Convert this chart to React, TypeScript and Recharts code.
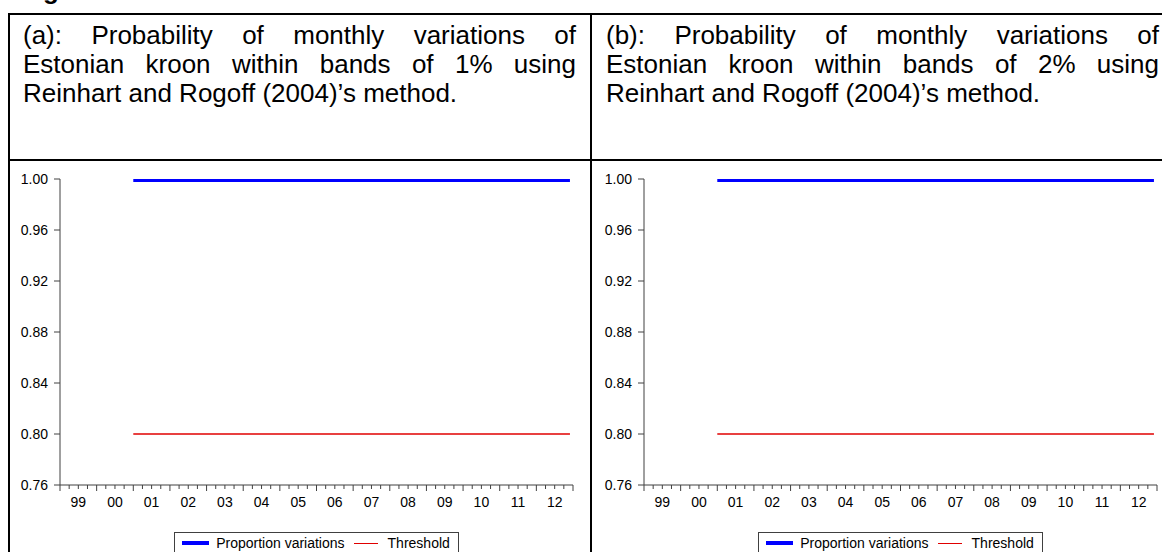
import React from 'react'
import { LineChart, Line, XAxis, YAxis, Legend } from 'recharts'

const obsDates = [
  '2001-01', '2002-01', '2003-01', '2004-01', '2005-01', '2006-01', '2007-01',
  '2008-01', '2009-01', '2010-01', '2011-01', '2012-01', '2012-12',
]
const proportionBand1 = [1, 1, 1, 1, 1, 1, 1, 1, 1, 1, 1, 1, 1]
const proportionBand2 = [1, 1, 1, 1, 1, 1, 1, 1, 1, 1, 1, 1, 1]
const threshold = [0.8, 0.8, 0.8, 0.8, 0.8, 0.8, 0.8, 0.8, 0.8, 0.8, 0.8, 0.8, 0.8]

const yearLabels = ['99', '00', '01', '02', '03', '04', '05', '06', '07', '08', '09', '10', '11', '12']
const yTicks = [0.76, 0.8, 0.84, 0.88, 0.92, 0.96, 1.0]
const firstYear = 1999

const titleA = [
  '(a): Probability of monthly variations of',
  'Estonian kroon within bands of 1% using',
  'Reinhart and Rogoff (2004)’s method.',
]
const titleB = [
  '(b): Probability of monthly variations of',
  'Estonian kroon within bands of 2% using',
  'Reinhart and Rogoff (2004)’s method.',
]

const FONT = '"Liberation Sans", Arial, sans-serif'
const AXIS = '#404040'
const xMax = yearLabels.length * 12
const quarterTicks = Array.from({ length: yearLabels.length * 4 + 1 }, (_, i) => i * 3)

function monthIndex(d: string) {
  const [y, m] = d.split('-').map(Number)
  return (y - firstYear) * 12 + (m - 1)
}

function buildRows(values: number[]) {
  return obsDates.map((d, i) => ({ m: monthIndex(d), p: values[i], t: threshold[i] }))
}

function MonthTick({ x, y, payload }: { x: number; y: number; payload: { value: number } }) {
  const v = payload.value
  const major = v % 12 === 0
  const label = v % 12 === 6 ? yearLabels[Math.floor(v / 12)] : null
  return (
    <g>
      <line x1={x} x2={x} y1={y} y2={y + (major ? 6 : 4)} stroke={AXIS} strokeWidth={1} />
      {label && (
        <text x={x} y={y + 22} textAnchor="middle" fontSize={14} fontFamily={FONT} fill="#000">
          {label}
        </text>
      )}
    </g>
  )
}

function LegendBox({ payload }: { payload?: any[] }) {
  return (
    <div style={{ textAlign: 'center' }}>
      <div
        style={{
          display: 'inline-flex',
          alignItems: 'center',
          border: `1px solid ${AXIS}`,
          padding: '2px 8px 2px 7px',
          fontSize: 14,
          lineHeight: '16px',
          fontFamily: FONT,
          color: '#000',
          background: '#fff',
        }}
      >
        {(payload ?? []).map((entry, i) => (
          <React.Fragment key={entry.value}>
            <span
              style={{
                display: 'inline-block',
                width: i === 0 ? 27 : 24,
                height: i === 0 ? 4 : 1,
                background: entry.color,
                marginLeft: i === 0 ? 0 : 9,
                marginRight: i === 0 ? 7 : 10,
              }}
            />
            <span>{entry.value}</span>
          </React.Fragment>
        ))}
      </div>
    </div>
  )
}

function Panel({ values }: { values: number[] }) {
  const rows = buildRows(values)
  return (
    <LineChart width={578} height={390} data={rows} margin={{ top: 17, right: 15, left: 10, bottom: 0 }}>
      <Line
        type="linear"
        dataKey="p"
        name="Proportion variations"
        stroke="#0000ff"
        strokeWidth={6}
        dot={false}
        activeDot={false}
        isAnimationActive={false}
      />
      <Line
        type="linear"
        dataKey="t"
        name="Threshold"
        stroke="#e00000"
        strokeWidth={1.3}
        dot={false}
        activeDot={false}
        isAnimationActive={false}
      />
      <XAxis
        dataKey="m"
        type="number"
        domain={[0, xMax]}
        ticks={quarterTicks}
        interval={0}
        tickSize={0}
        tickMargin={0}
        tickLine={false}
        tick={MonthTick as any}
        axisLine={{ stroke: AXIS }}
        height={44}
      />
      <XAxis xAxisId="top" orientation="top" type="number" domain={[0, xMax]} tick={false} tickLine={false} axisLine={{ stroke: AXIS }} height={0} />
      <YAxis
        type="number"
        domain={[0.76, 1]}
        ticks={yTicks}
        interval={0}
        allowDataOverflow
        tickFormatter={(v: number) => v.toFixed(2)}
        tickSize={6}
        tickMargin={6}
        tick={{ fontSize: 14, fill: '#000', fontFamily: FONT }}
        tickLine={{ stroke: AXIS }}
        axisLine={{ stroke: AXIS }}
        width={40}
      />
      <YAxis yAxisId="right" orientation="right" type="number" domain={[0.76, 1]} tick={false} tickLine={false} axisLine={{ stroke: AXIS }} width={0} />
      <Legend
        verticalAlign="bottom"
        content={LegendBox as any}
        wrapperStyle={{ top: 369, bottom: 'auto', left: 50, width: 513 }}
      />
    </LineChart>
  )
}

function Title({ lines }: { lines: string[] }) {
  return (
    <div style={{ width: 553, fontFamily: FONT, fontSize: 26, lineHeight: '29px', color: '#000' }}>
      {lines.map((l, i) => (
        <div
          key={i}
          style={{
            textAlign: i < lines.length - 1 ? 'justify' : 'left',
            textAlignLast: i < lines.length - 1 ? 'justify' : 'left',
            whiteSpace: 'nowrap',
          }}
        >
          {l}
        </div>
      ))}
    </div>
  )
}

const rule = (s: React.CSSProperties): React.CSSProperties => ({ position: 'absolute', background: '#000', ...s })

export default function App() {
  return (
    <div style={{ position: 'fixed', left: 0, top: 0, width: 1162, height: 552, overflow: 'hidden', background: '#fff' }}>
      <div
        style={{
          position: 'absolute',
          left: 20,
          top: -24,
          fontFamily: FONT,
          fontWeight: 'bold',
          fontSize: 26,
          lineHeight: '28px',
        }}
      >
        Figure 4
      </div>
      {/* table rules */}
      <div style={rule({ left: 8, top: 13, width: 1154, height: 2 })} />
      <div style={rule({ left: 8, top: 159, width: 1154, height: 2 })} />
      <div style={rule({ left: 8, top: 13, width: 2, height: 539 })} />
      <div style={rule({ left: 590, top: 13, width: 2, height: 539 })} />

      <div style={{ position: 'absolute', left: 23, top: 21 }}>
        <Title lines={titleA} />
      </div>
      <div style={{ position: 'absolute', left: 606, top: 21 }}>
        <Title lines={titleB} />
      </div>

      <div style={{ position: 'absolute', left: 10, top: 162 }}>
        <Panel values={proportionBand1} />
      </div>
      <div style={{ position: 'absolute', left: 594, top: 162 }}>
        <Panel values={proportionBand2} />
      </div>
    </div>
  )
}
